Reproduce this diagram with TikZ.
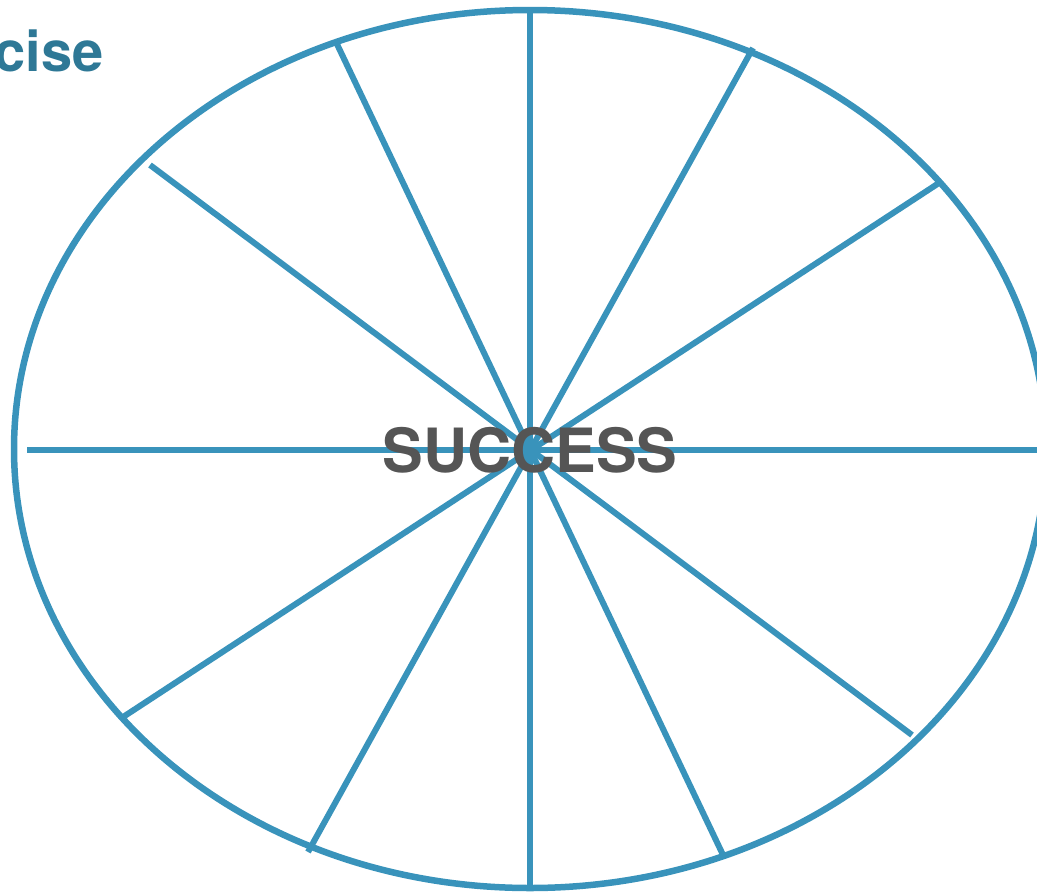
\documentclass[tikz,border=0pt]{standalone}
\usepackage{fontspec}
\setmainfont{TeX Gyre Heros}
\definecolor{spoke}{RGB}{57,147,187}
\definecolor{title}{RGB}{46,120,150}
\definecolor{label}{RGB}{85,85,85}
\begin{document}
\begin{tikzpicture}[x=1pt,y=-1pt,
  spokeline/.style={draw=spoke,line width=6pt},
  rim/.style={draw=spoke,line width=6.5pt}]
\useasboundingbox (0,0) rectangle (1037,892);
\clip (0,0) rectangle (1037,892);
\coordinate (c) at (530,449);
\draw[rim] (c) ellipse [x radius=516, y radius=439];
\coordinate (p1) at (27,450);
\coordinate (p2) at (1045,450);
\coordinate (p3) at (530,8);
\coordinate (p4) at (530,890);
\coordinate (p5) at (336,42);
\coordinate (p6) at (724,857);
\coordinate (p7) at (150,165);
\coordinate (p8) at (912,735);
\coordinate (p9) at (753,48);
\coordinate (p10) at (308,852);
\coordinate (p11) at (942,181);
\coordinate (p12) at (120,719);
\foreach \a/\b in {p1/p2,p3/p4,p5/p6,p7/p8,p9/p10,p11/p12}
  \draw[spokeline] (\a) -- (\b);
\node[text=label,font=\fontsize{61}{61}\selectfont\bfseries,inner sep=0pt] (s) at (530,450) {SUCCESS};
\node[text=title,font=\fontsize{56}{56}\selectfont\bfseries,inner sep=0pt,anchor=base east] (t) at (104,71) {cise};
\end{tikzpicture}
\end{document}
